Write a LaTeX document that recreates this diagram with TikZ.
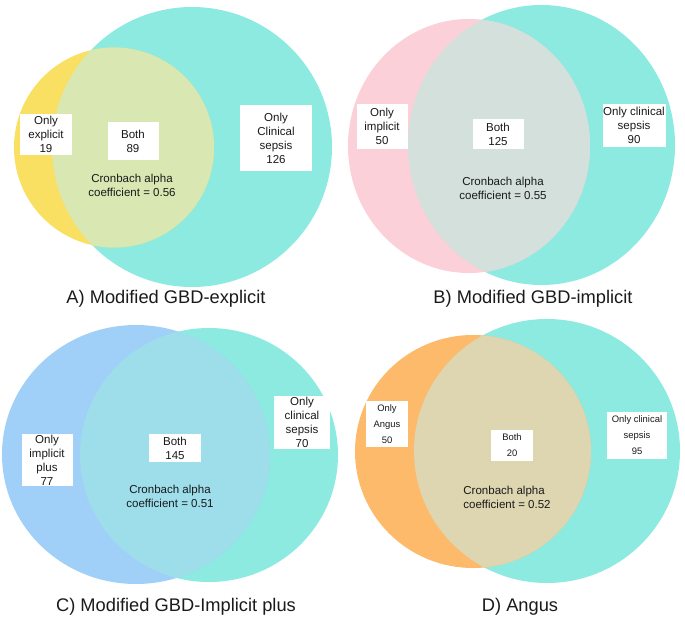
\documentclass[tikz,border=0pt]{standalone}
\usepackage{fontspec}
\setmainfont{Liberation Sans}
\definecolor{tealc}{HTML}{8DEAE0}
\definecolor{yellowc}{HTML}{F9DF62}
\definecolor{yellowx}{HTML}{D9E8B3}
\definecolor{pinkc}{HTML}{FBD0D8}
\definecolor{pinkx}{HTML}{D3E0DB}
\definecolor{bluec}{HTML}{A0CFF8}
\definecolor{bluex}{HTML}{9EDEEB}
\definecolor{orangec}{HTML}{FDBA6A}
\definecolor{orangex}{HTML}{DED6B0}
\definecolor{inkc}{HTML}{1A1A1A}
\newcommand{\pxu}{0.025cm}
\newcommand{\lblfont}{\fontsize{8.2}{10}\selectfont}
\newcommand{\smallfont}{\fontsize{6.7}{11.4}\selectfont}
\tikzset{
  lbl/.style={fill=white, align=center, inner sep=0pt, text=inkc, font=\lblfont},
  lblsmall/.style={lbl, font=\smallfont},
  cron/.style={align=center, inner sep=0pt, text=inkc, font=\lblfont},
  paneltitle/.style={inner sep=0pt, text=inkc, font=\fontsize{13}{15}\selectfont}
}
\begin{document}
\begin{tikzpicture}[x=0.025cm, y=-0.025cm]
  \useasboundingbox (0,0) rectangle (685,619);

  % A) explicit
  \fill[tealc] (192,147) circle[radius=140];
  \fill[yellowc] (114,147.5) circle[radius=100];
  \begin{scope}
    \clip (192,147) circle[radius=140];
    \fill[yellowx] (114,147.5) circle[radius=100];
  \end{scope}
  \node[lbl, minimum width=52*\pxu, minimum height=41*\pxu] (onlyexpl) at (46,134) {Only\\explicit\\19};
  \node[lbl, minimum width=51*\pxu, minimum height=38*\pxu] (bothA) at (133,141) {Both\\89};
  \node[lbl, minimum width=72*\pxu, minimum height=66*\pxu] (onlyclinA) at (276,138) {Only\\Clinical\\sepsis\\126};
  \node[cron] (cronA) at (132,185) {Cronbach alpha\\coefficient = 0.56};
  \node[paneltitle] (titleA) at (166,299) {A) Modified GBD-explicit};

  % B) implicit
  \fill[tealc] (541.5,145) circle[x radius=133.5, y radius=140];
  \fill[pinkc] (469,146) circle[x radius=121, y radius=127];
  \begin{scope}
    \clip (541.5,145) circle[x radius=133.5, y radius=140];
    \fill[pinkx] (469,146) circle[x radius=121, y radius=127];
  \end{scope}
  \node[lbl, minimum width=51*\pxu, minimum height=45*\pxu] (onlyimpl) at (382,126) {Only\\implicit\\50};
  \node[lbl, minimum width=51*\pxu, minimum height=30*\pxu] (bothB) at (498,134) {Both\\125};
  \node[lbl, minimum width=63*\pxu, minimum height=43*\pxu] (onlyclinB) at (634,125) {Only clinical\\sepsis\\90};
  \node[cron] (cronB) at (503,188) {Cronbach alpha\\coefficient = 0.55};
  \node[paneltitle] (titleB) at (533,299) {B) Modified GBD-implicit};

  % C) implicit plus
  \fill[tealc] (209,455) circle[x radius=129, y radius=127];
  \fill[bluec] (136,454.5) circle[x radius=134, y radius=129.5];
  \begin{scope}
    \clip (209,455) circle[x radius=129, y radius=127];
    \fill[bluex] (136,454.5) circle[x radius=134, y radius=129.5];
  \end{scope}
  \node[lbl, minimum width=51*\pxu, minimum height=52*\pxu] (onlyplus) at (47,460) {Only\\implicit\\plus\\77};
  \node[lbl, minimum width=52*\pxu, minimum height=28*\pxu] (bothC) at (175,448) {Both\\145};
  \node[lbl, minimum width=56*\pxu, minimum height=53*\pxu] (onlyclinC) at (302,422) {Only\\clinical\\sepsis\\70};
  \node[cron] (cronC) at (170,496) {Cronbach alpha\\coefficient = 0.51};
  \node[paneltitle] (titleC) at (176,607) {C) Modified GBD-Implicit plus};

  % D) Angus
  \fill[tealc] (547,451) circle[x radius=133, y radius=132];
  \fill[orangec] (473,451.5) circle[x radius=118, y radius=116.5];
  \begin{scope}
    \clip (547,451) circle[x radius=133, y radius=132];
    \fill[orangex] (473,451.5) circle[x radius=118, y radius=116.5];
  \end{scope}
  \node[lblsmall, minimum width=42*\pxu, minimum height=46*\pxu] (onlyangus) at (387,424) {Only\\Angus\\50};
  \node[lblsmall, minimum width=42*\pxu, minimum height=31*\pxu] (bothD) at (512,445) {Both\\20};
  \node[lblsmall, minimum width=60*\pxu, minimum height=47*\pxu] (onlyclinD) at (637,435) {Only clinical\\sepsis\\95};
  \node[cron, align=left] (cronD) at (507,497) {Cronbach alpha\\coefficient = 0.52};
  \node[paneltitle] (titleD) at (520,607) {D) Angus};
\end{tikzpicture}
\end{document}
